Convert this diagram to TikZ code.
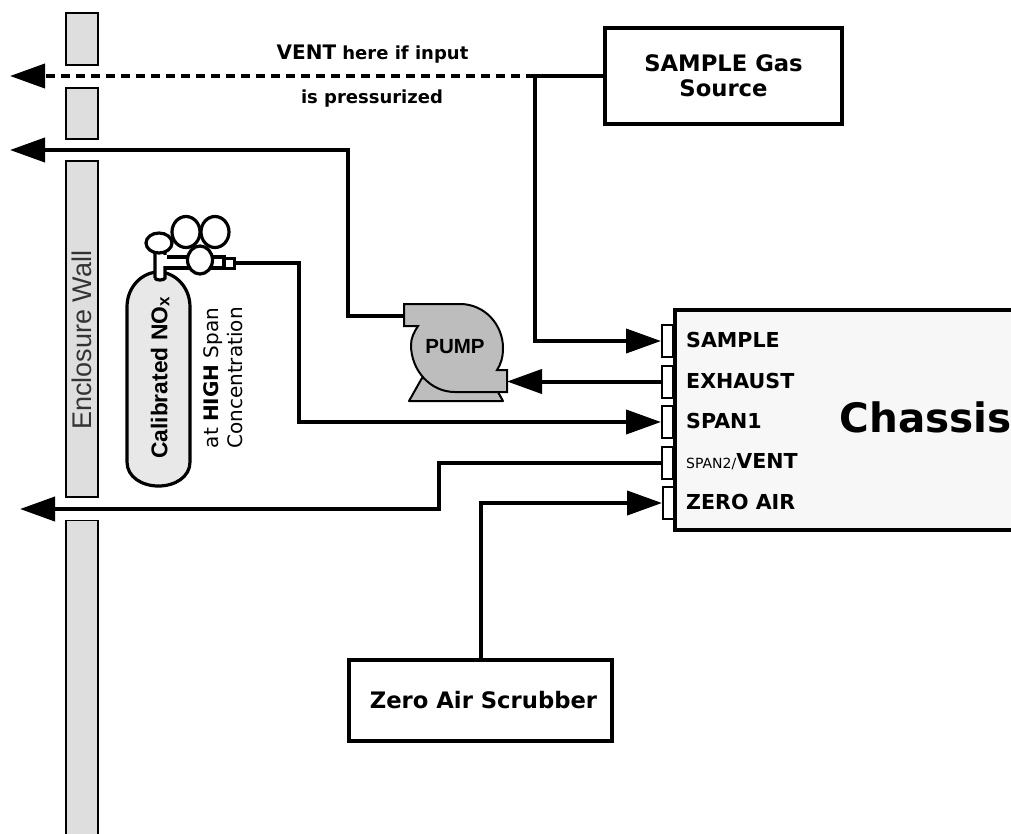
\documentclass[tikz,border=0pt]{standalone}
\usepackage{fontspec}
\setmainfont{DejaVu Sans}
\newfontfamily\arialf{Liberation Sans}
\usetikzlibrary{arrows.meta}
\tikzset{
  wall/.style={draw=black,fill=black!13,line width=1.2pt,rectangle,minimum width=32pt,inner sep=0pt},
  bx/.style={draw=black,fill=white,line width=4pt,rectangle,inner sep=0pt,font=\bfseries\fontsize{22.7}{26}\selectfont,align=center},
  port/.style={draw=black,fill=white,line width=2pt,rectangle,minimum width=11pt,minimum height=32pt,inner sep=0pt},
  plabel/.style={anchor=west,inner sep=0pt,font=\bfseries\fontsize{20.6}{24}\selectfont},
  pipe/.style={line width=4pt,draw=black},
  arr/.style={pipe,-{Triangle[length=35pt,width=24pt]}},
  note/.style={inner sep=0pt,font=\bfseries\fontsize{18}{22}\selectfont},
  cylp/.style={draw=black,line width=3.2pt,fill=white},
}
\begin{document}
\begin{tikzpicture}[x=1pt,y=-1pt]
\useasboundingbox (0,0) rectangle (1011,833);
\clip (0,0) rectangle (1011,833);
% enclosure wall
\node[wall,minimum height=52pt] (w1) at (82,39) {};
\node[wall,minimum height=51pt] (w2) at (82,113.5) {};
\node[wall,minimum height=336pt] (w3) at (82,329) {};
\node[wall,minimum height=330pt,anchor=north] (w4) at (82,520) {};
\node[rotate=90,inner sep=0pt,font=\arialf\fontsize{27}{30}\selectfont,text=black!80] (wl) at (82,340) {Enclosure Wall};
% free ends
\coordinate (e1) at (10,76);
\coordinate (e2) at (10,150);
\coordinate (e3) at (20,509);
% boxes
\node[bx,minimum width=237pt,minimum height=96pt] (src) at (723.5,76) {SAMPLE Gas\\[-1pt]Source};
\node[bx,minimum width=263pt,minimum height=81pt] (zas) at (480.5,700.5) {\hspace*{6pt}Zero Air Scrubber};
\node[draw=black,fill=black!3,line width=4pt,minimum width=345pt,minimum height=220pt,inner sep=0pt,anchor=north west] (ch) at (673,308) {};
% ports
\node[port] (p1) at (667.5,341) {};
\node[port] (p2) at (667.5,381.5) {};
\node[port] (p3) at (667.5,422) {};
\node[port] (p4) at (667.5,462.5) {};
\node[port] (p5) at (668.5,503) {};
\node[plabel] (l1) at (686,340) {SAMPLE};
\node[plabel] (l2) at (686,380.5) {EXHAUST};
\node[plabel] (l3) at (686,421) {SPAN1};
\node[plabel] (l4) at (686,461.5) {{\mdseries\fontsize{14}{16}\selectfont SPAN2/}VENT};
\node[plabel] (l5) at (686,502) {ZERO AIR};
\node[inner sep=0pt,font=\bfseries\fontsize{40.5}{46}\selectfont,anchor=west] (chl) at (839.5,417) {Chassis};
% notes
\node[note] (n1) at (372.5,54) {{\fontsize{20}{22}\selectfont VENT} here if input};
\node[note] (n2) at (372,99) {is pressurized};
% pump
\draw[draw=black,fill=black!26,line width=2pt,line join=round] (422,378) -- (409,401) -- (503,401) -- (498,392) -- cycle;
\draw[draw=black,fill=black!26,line width=2pt,line join=miter] (404,304) -- (460,304) .. controls (485,304) and (503,325) .. (503,348) .. controls (503,357) and (501,364) .. (497,370) -- (507,370) -- (507,392) -- (455,392) .. controls (430,392) and (411,370) .. (411,345) .. controls (411,338) and (414,332) .. (418,326) -- (404,326) -- cycle;
\node[inner sep=0pt,font=\arialf\bfseries\fontsize{20.5}{24}\selectfont] (pl) at (455,347) {PUMP};
\coordinate (pin) at (404,316);
\coordinate (pout) at (507,381.5);
% cylinder
\draw[cylp] (186,232) ellipse[x radius=14,y radius=15.5];
\draw[cylp] (215,232) ellipse[x radius=14,y radius=15.5];
\draw[draw=black,fill=black!9,line width=3.2pt] (127,307) .. controls (127,286) and (143,272) .. (158.5,272) .. controls (174,272) and (190,286) .. (190,307) -- (190,462) .. controls (190,477) and (175,486) .. (158.5,486) .. controls (142,486) and (127,477) .. (127,462) -- cycle;
\draw[cylp] (165,257) rectangle (224,268);
\draw[cylp] (155,278) -- (155,250) -- (165,250) -- (165,278) arc[start angle=0,end angle=180,x radius=5,y radius=2];
\fill[white] (156.6,255) rectangle (167,266.4);
\draw[cylp] (200,260) ellipse[x radius=12.5,y radius=14];
\draw[cylp] (159,243) ellipse[x radius=13,y radius=10];
\node[draw=black,fill=white,line width=3pt,minimum width=10pt,minimum height=10pt,inner sep=0pt] (fit) at (229,263) {};
\node[rotate=90,inner sep=0pt,font=\arialf\bfseries\fontsize{22.8}{26}\selectfont] (cl) at (160,378) {Calibrated NO\raisebox{-2pt}{\fontsize{17}{20}\selectfont x}};
\node[rotate=90,inner sep=0pt,font=\fontsize{20}{24}\selectfont,align=center] (cl2) at (223,378) {at \textbf{HIGH} Span\\Concentration};
% connectors
\coordinate (j) at (535,76);
\draw[pipe] (src.west) -- (j);
\draw[arr,dash pattern=on 9pt off 6pt] (j) -- (e1);
\draw[arr] (j) |- (p1.west);
\draw[arr] (pin) -- (348,316) |- (e2);
\draw[arr] (p2.west) -- (pout);
\draw[arr] (fit.east) -- (299,263) |- (p3.west);
\draw[arr] (p4.west) -- (439,462.5) |- (e3);
\draw[arr] (zas.north) |- (p5.west);
\end{tikzpicture}
\end{document}
